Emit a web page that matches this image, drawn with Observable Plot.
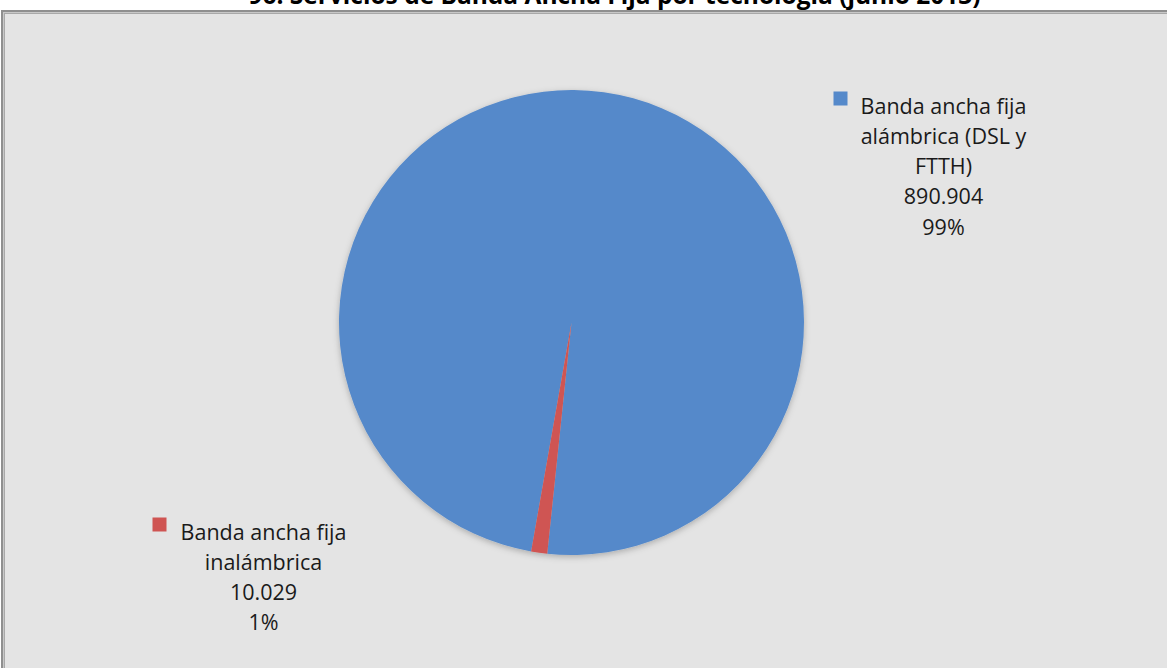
<!DOCTYPE html>
<html><head><meta charset="utf-8">
<script src="https://cdn.jsdelivr.net/npm/d3@7"></script>
<script src="https://cdn.jsdelivr.net/npm/@observablehq/plot@0.6"></script>
<style>
html,body{margin:0;padding:0;background:#fff}
body{width:1167px;height:668px;overflow:hidden;position:relative}
#frame{position:absolute;left:1px;top:10px;width:1175px;height:670px;background:#e4e4e4;border:2px solid #8f8f8f;box-shadow:inset 0 0 0 1px #c8c8c8, inset 0 0 0 2px #a8a8a8;box-sizing:border-box}
#chart{position:absolute;left:0;top:0}
</style></head><body><div id="frame"></div><div id="chart"></div>
<script>
// ---- data ----
const title = "96. Servicios de Banda Ancha Fija por tecnología (junio 2013)";
const categories = ["Banda ancha fija alámbrica (DSL y FTTH)", "Banda ancha fija inalámbrica"];
const labelLines = [["Banda ancha fija", "alámbrica (DSL y", "FTTH)"], ["Banda ancha fija", "inalámbrica"]];
const values = [890904, 10029];
const valueLabels = ["890.904", "10.029"];
const percentLabels = ["99%", "1%"];
const colors = ["#5589ca", "#cf5452"];

// ---- layout ----
const W = 1167, H = 668;
const cx = 571.5, cy = 322.5, R = 232.5;
const startDeg = 190; // first slice start (clockwise from 12 o'clock)
const labelPos = [{x: 943, y: 91.5, mx: 840, my: 98}, {x: 263, y: 517.5, mx: 159, my: 524}];

const table = categories.map((c, i) => ({
  category: c,
  value: values[i],
  color: colors[i],
  text: [...labelLines[i], valueLabels[i], percentLabels[i]].join("\n"),
  ...labelPos[i]
}));

const pie = d3.pie().sort(null).value(d => d.value)
  .startAngle(startDeg * Math.PI / 180).endAngle((startDeg + 360) * Math.PI / 180);
const arcs = pie(table);
const arcGen = d3.arc().innerRadius(0).outerRadius(R);

const pieMark = (index, scales, values, dims, ctx) => {
  const g = d3.create("svg:g");
  const defs = g.append("defs");
  const f = defs.append("filter").attr("id", "shadow").attr("x", "-10%").attr("y", "-10%").attr("width", "120%").attr("height", "125%");
  f.append("feDropShadow").attr("dx", 0).attr("dy", 2).attr("stdDeviation", 3).attr("flood-color", "#000").attr("flood-opacity", 0.25);
  const px = scales.x(cx), py = scales.y(cy);
  const gg = g.append("g").attr("transform", `translate(${px},${py})`).attr("filter", "url(#shadow)");
  gg.selectAll("path").data(arcs).join("path")
    .attr("d", arcGen).attr("fill", d => d.data.color);
  return g.node();
};

const chart = Plot.plot({
  width: W, height: H,
  margin: 0,
  x: {domain: [0, W], range: [0, W], axis: null},
  y: {domain: [0, H], range: [0, H], axis: null},
  style: {background: "transparent", overflow: "visible"},
  marks: [
    pieMark,
    Plot.dot(table, {x: "mx", y: "my", symbol: "square", r: 7.9, fill: "color", stroke: null}),
    Plot.text(table, {x: "x", y: "y", text: "text", fill: "#1a1a1a", fontSize: 21.5, lineHeight: 1.41,
      lineAnchor: "top", textAnchor: "middle", fontFamily: "'Open Sans', sans-serif"}),
    Plot.text([title], {x: [614], y: [3], text: d => d, fontSize: 24.5, fontWeight: "bold",
      lineAnchor: "bottom", textAnchor: "middle", fill: "#000", fontFamily: "'Open Sans', sans-serif"})
  ]
});
document.getElementById("chart").appendChild(chart);
</script>
</body></html>
